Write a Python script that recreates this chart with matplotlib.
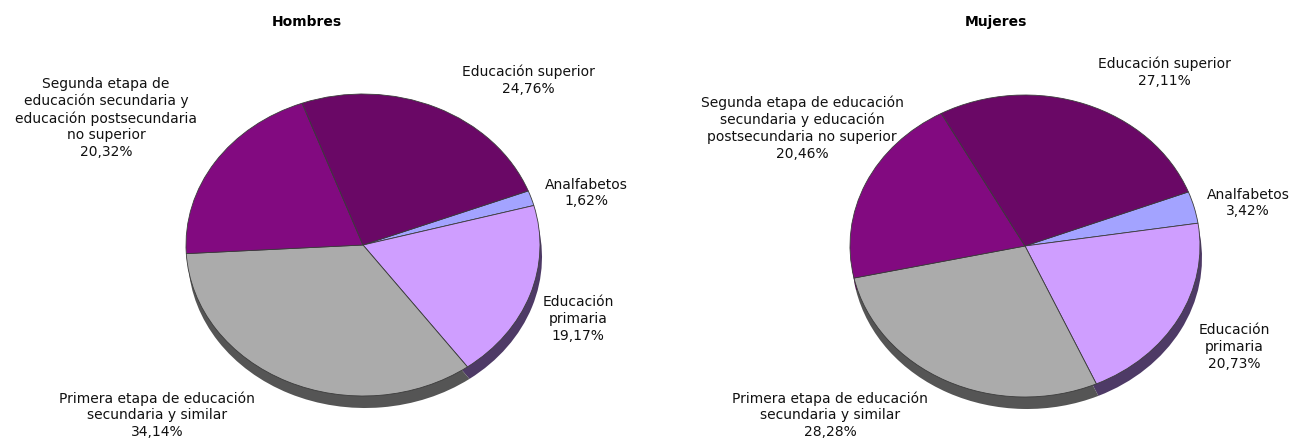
import numpy as np
import matplotlib.pyplot as plt

# datos (porcentaje de población por nivel de formación)
categorias = ["Analfabetos", "Educación primaria",
              "Primera etapa de educación secundaria y similar",
              "Segunda etapa de educación secundaria y educación postsecundaria no superior",
              "Educación superior"]
hombres = [1.62, 19.17, 34.14, 20.32, 24.76]
mujeres = [3.42, 20.73, 28.28, 20.46, 27.11]

etiq_hombres = ["Analfabetos", "Educación\nprimaria",
                "Primera etapa de educación\nsecundaria y similar",
                "Segunda etapa de\neducación secundaria y\neducación postsecundaria\nno superior",
                "Educación superior"]
etiq_mujeres = ["Analfabetos", "Educación\nprimaria",
                "Primera etapa de educación\nsecundaria y similar",
                "Segunda etapa de educación\nsecundaria y educación\npostsecundaria no superior",
                "Educación superior"]

colores = ["#a3a3ff", "#cf9eff", "#ababab", "#820a80", "#6a0866"]
colores_sombra = ["#5a5a90", "#4e3a66", "#555555", "#4a0a48", "#3a0538"]

W, H = 1293, 438
fig = plt.figure(figsize=(W / 100, H / 100), dpi=100)


def pie_3d(cx, cy, rx, ry, valores, titulo, etiquetas, pos_etiq, pos_titulo):
    """dibuja una tarta con borde inferior tipo 3D"""
    ax = fig.add_axes([(cx - rx) / W, 1 - (cy + ry) / H, 2 * rx / W, 2 * ry / H])
    prof = 12.0 / ry
    desp = 2.0 / rx
    ax.pie(valores, colors=colores_sombra, startangle=21, counterclock=False,
           center=(desp, -prof), wedgeprops=dict(linewidth=0))
    ax.pie(valores, colors=colores, startangle=21, counterclock=False,
           wedgeprops=dict(linewidth=0.6, edgecolor="#3c3c3c"))
    ax.set_aspect("auto")
    ax.set_xlim(-1, 1)
    ax.set_ylim(-1, 1)
    for p in ax.patches:
        p.set_clip_on(False)
    for txt, v, (x, y) in zip(etiquetas, valores, pos_etiq):
        s = txt + "\n" + f"{v:.2f}%".replace(".", ",")
        fig.text(x / W, 1 - y / H, s, ha="center", va="center",
                 fontsize=10, linespacing=1.24, color="#111111")
    fig.text(pos_titulo[0] / W, 1 - pos_titulo[1] / H, titulo, ha="center",
             va="center", fontsize=10, fontweight="bold")


pie_3d(363, 245, 177, 151, hombres, "Hombres", etiq_hombres,
       [(586, 193), (578, 319), (157, 415), (106, 118), (528, 80)], (307, 22))
pie_3d(1025, 246, 175, 151, mujeres, "Mujeres", etiq_mujeres,
       [(1248, 203), (1234, 347), (830, 415), (802, 128), (1164, 72)], (996, 22))

fig.savefig("out.png", dpi=100)
